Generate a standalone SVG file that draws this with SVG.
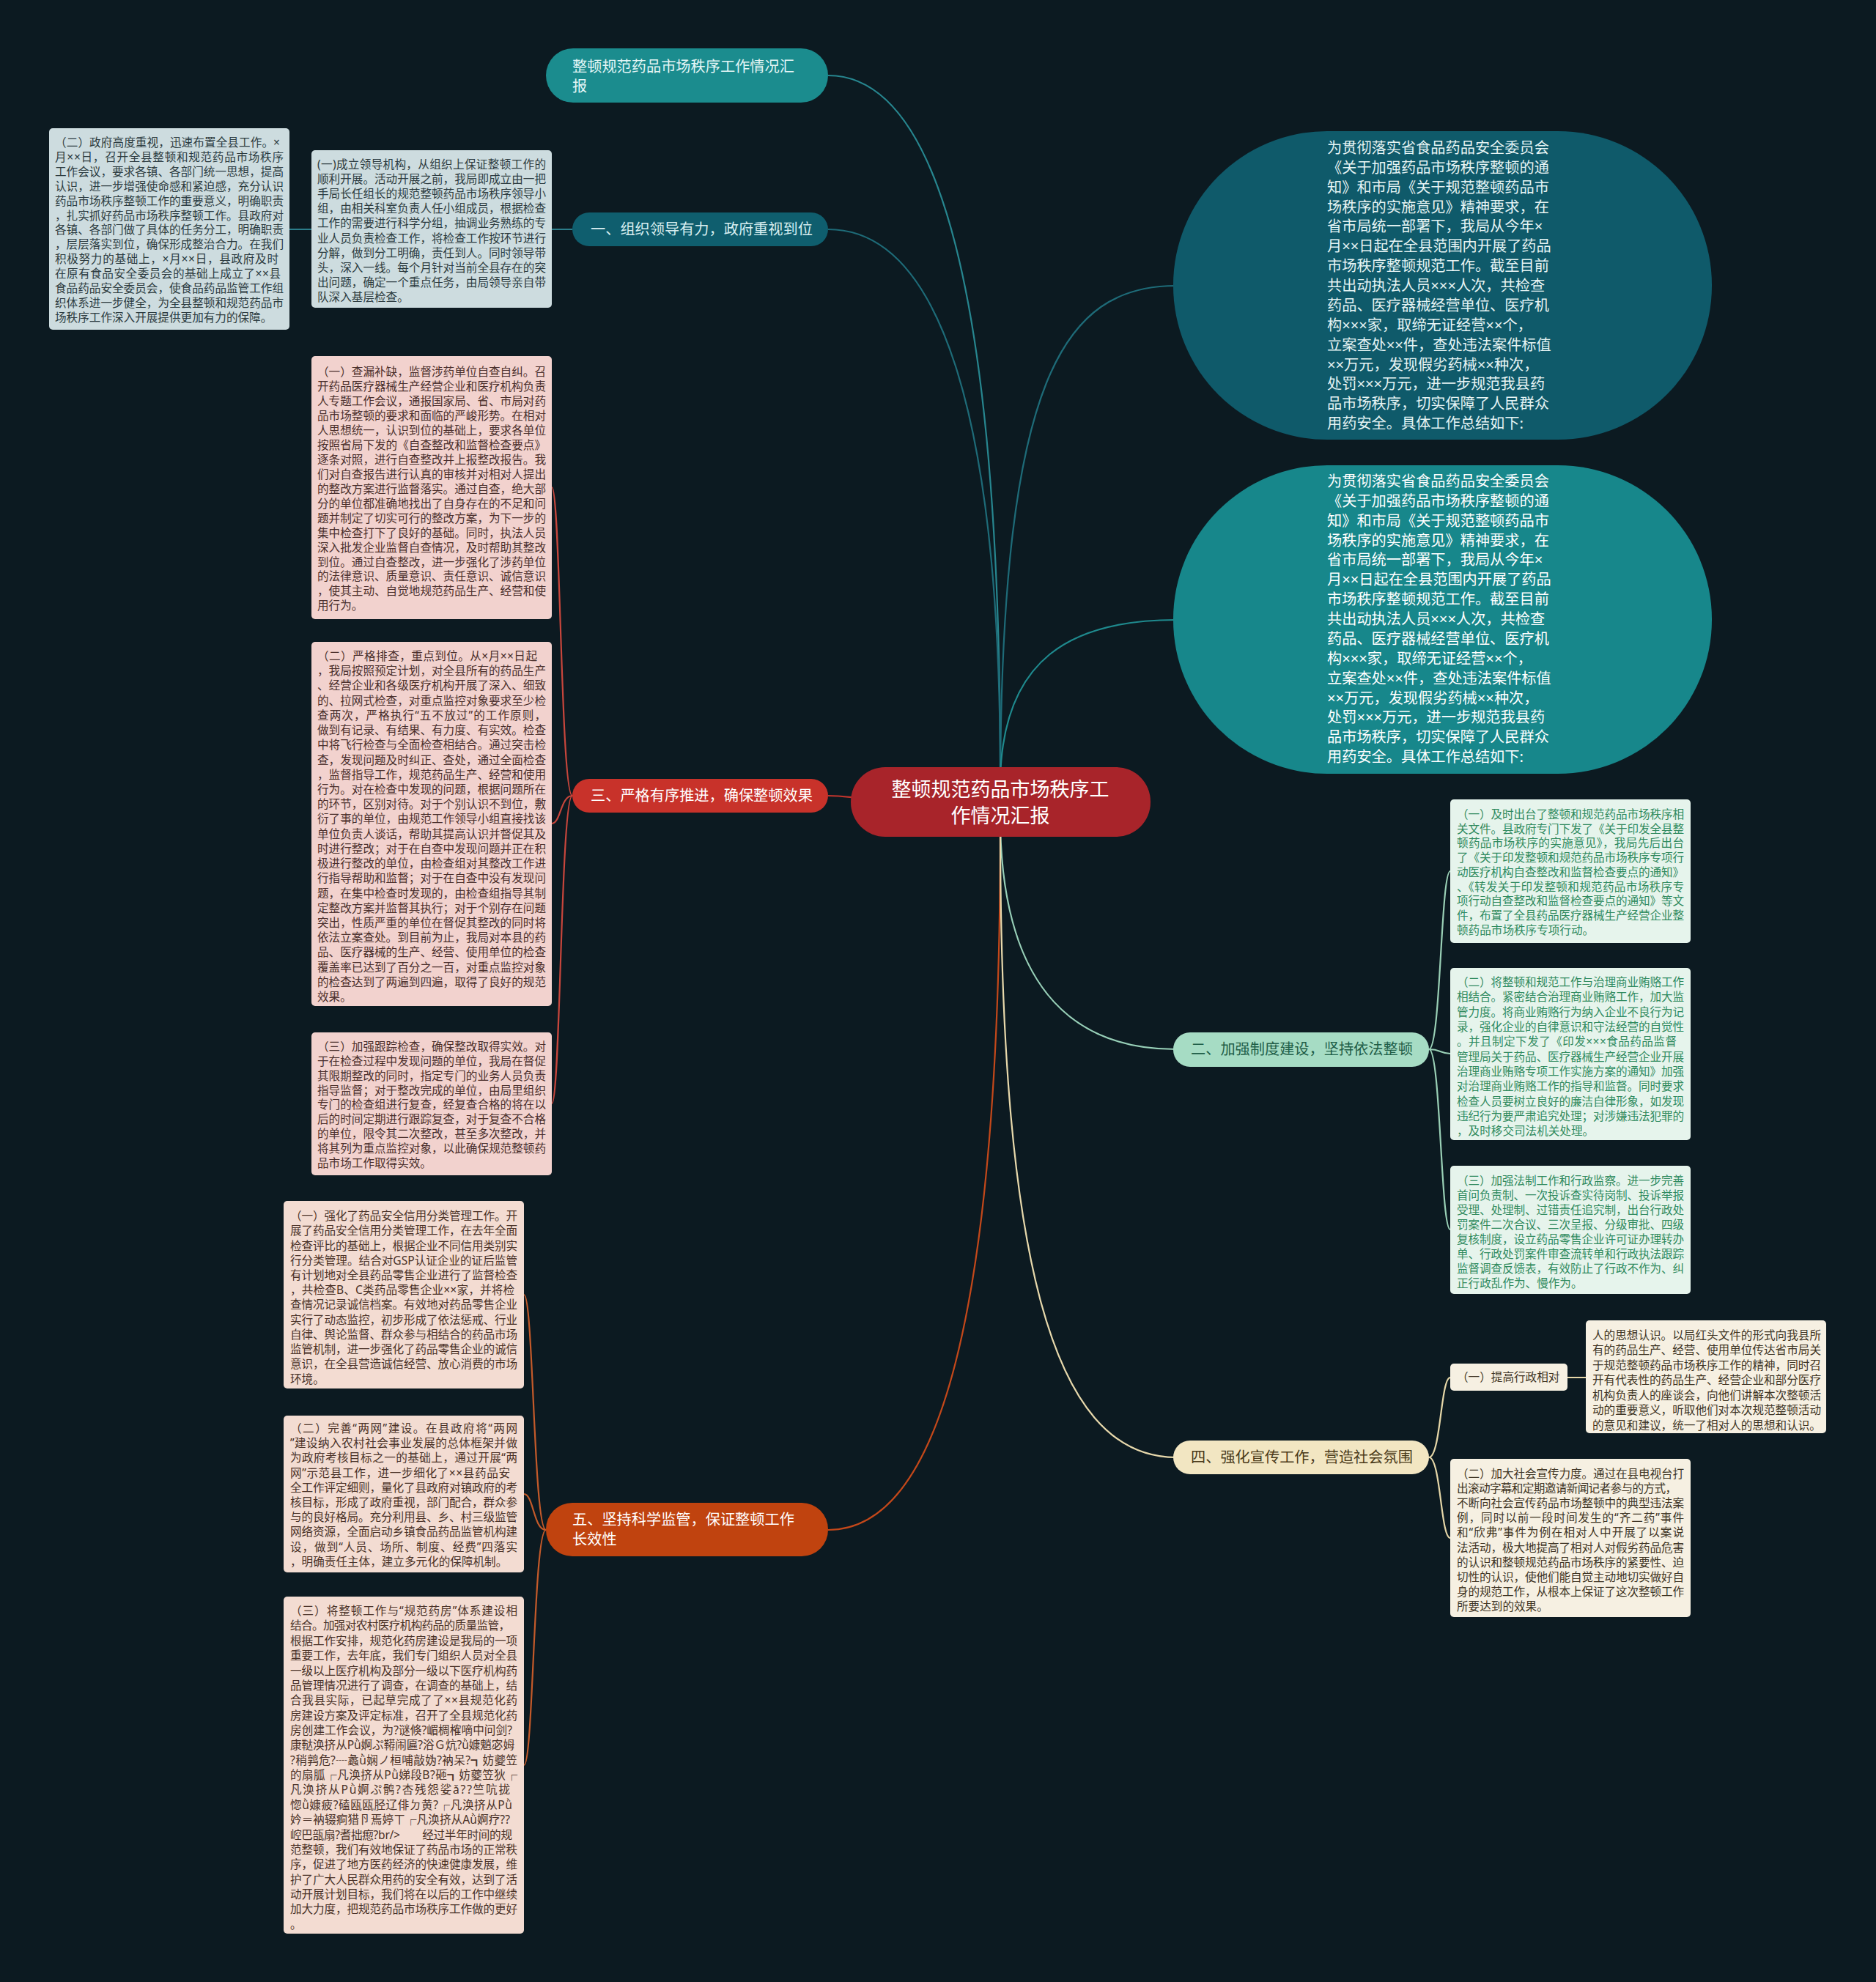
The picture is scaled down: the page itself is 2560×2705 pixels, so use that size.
<svg xmlns="http://www.w3.org/2000/svg" width="2560" height="2705" viewBox="0 0 2560 2705">
<defs>
<style>
text{font-family:"Noto Sans","Noto Sans CJK SC",sans-serif;}
.s{font-size:15.6px;}
.p{font-size:20.2px;}
.c{fill:none;stroke-width:2.2;}
.tb{fill:#2c3b40;}
.tp{fill:#4a2f2c;}
.to{fill:#4a3228;}
.tg{fill:#2f8a5e;}
.ty{fill:#3e3424;}
</style>
</defs>
<rect x="0" y="0" width="2560" height="2705" fill="#0c1a21"/>

<g id="connectors">
<path class="c" stroke="#27868f" d="M1365,1060 C1365,400 1280,103 1130,103"/>
<path class="c" stroke="#1e6b78" d="M1365,1060 C1365,560 1280,313 1130,313"/>
<path class="c" stroke="#c0352d" d="M1200,1090 C1160,1090 1160,1086 1130,1086"/>
<path class="c" stroke="#c4481a" d="M1365,1130 C1365,1800 1280,2088 1130,2088"/>
<path class="c" stroke="#1e6b78" d="M1365,1060 C1368,520 1450,390 1605,390"/>
<path class="c" stroke="#1f8a8e" d="M1365,1060 C1370,900 1460,846 1605,846"/>
<path class="c" stroke="#98d0b8" d="M1365,1130 C1370,1330 1450,1432 1605,1432"/>
<path class="c" stroke="#e8d9ac" d="M1365,1130 C1365,1700 1430,1989 1605,1989"/>
<path class="c" stroke="#2c7d8a" d="M395,313 L781,313"/>
<path class="c" stroke="#c8463c" d="M781,1086 C765,1086 765,665 753,665 M781,1086 C765,1086 765,1124 753,1124 M781,1086 C765,1086 765,1506 753,1506"/>
<path class="c" stroke="#c45a2a" d="M745,2088 C728,2088 728,1767 715,1767 M745,2088 C728,2088 728,2039 715,2039 M745,2088 C728,2088 728,2409 715,2409"/>
<path class="c" stroke="#9ad0b6" d="M1950,1432 C1966,1432 1966,1189 1979,1189 M1950,1432 C1966,1432 1966,1438 1979,1438 M1950,1432 C1966,1432 1966,1678 1979,1678"/>
<path class="c" stroke="#e6d7a8" d="M1950,1989 C1966,1989 1966,1880 1979,1880 M1950,1989 C1966,1989 1966,2099 1979,2099 M2139,1880 L2164,1880"/>
</g>

<g id="n-center">
<rect x="1161" y="1047" width="409" height="95" rx="47" fill="#a8242a"/>
<text x="1365" y="1087" text-anchor="middle" font-size="27" fill="#ffffff">整顿规范药品市场秩序工</text>
<text x="1365" y="1123" text-anchor="middle" font-size="27" fill="#ffffff">作情况汇报</text>
</g>

<g id="n-top">
<rect x="745" y="66" width="385" height="74" rx="37" fill="#1b8c8e"/>
<text class="p" x="781" y="98" fill="#e4f6f6">整顿规范药品市场秩序工作情况汇</text>
<text class="p" x="781" y="125" fill="#e4f6f6">报</text>
</g>

<g id="n-b1">
<rect x="781" y="290" width="349" height="46" rx="23" fill="#0f5e6e"/>
<text class="p" x="806" y="320" fill="#d8eef0">一、组织领导有力，政府重视到位</text>
</g>

<g id="n-b1-1">
<rect x="425" y="205" width="328" height="215" rx="5" fill="#cddcdf"/>
<text class="s tb" x="433" y="230" textLength="312" lengthAdjust="spacing">(一)成立领导机构，从组织上保证整顿工作的</text>
<text class="s tb" x="433" y="250.1" textLength="312" lengthAdjust="spacing">顺利开展。活动开展之前，我局即成立由一把</text>
<text class="s tb" x="433" y="270.2" textLength="312" lengthAdjust="spacing">手局长任组长的规范整顿药品市场秩序领导小</text>
<text class="s tb" x="433" y="290.3" textLength="312" lengthAdjust="spacing">组，由相关科室负责人任小组成员，根据检查</text>
<text class="s tb" x="433" y="310.4" textLength="312" lengthAdjust="spacing">工作的需要进行科学分组，抽调业务熟练的专</text>
<text class="s tb" x="433" y="330.5" textLength="312" lengthAdjust="spacing">业人员负责检查工作，将检查工作按环节进行</text>
<text class="s tb" x="433" y="350.6" textLength="312" lengthAdjust="spacing">分解，做到分工明确，责任到人。同时领导带</text>
<text class="s tb" x="433" y="370.7" textLength="312" lengthAdjust="spacing">头，深入一线。每个月针对当前全县存在的突</text>
<text class="s tb" x="433" y="390.8" textLength="312" lengthAdjust="spacing">出问题，确定一个重点任务，由局领导亲自带</text>
<text class="s tb" x="433" y="410.9">队深入基层检查。</text>
</g>

<g id="n-b1-2">
<rect x="67" y="175" width="328" height="275" rx="5" fill="#cddcdf"/>
<text class="s tb" x="75" y="200" textLength="307" lengthAdjust="spacing">（二）政府高度重视，迅速布置全县工作。×</text>
<text class="s tb" x="75" y="219.9" textLength="312" lengthAdjust="spacing">月××日，召开全县整顿和规范药品市场秩序</text>
<text class="s tb" x="75" y="239.8" textLength="312" lengthAdjust="spacing">工作会议，要求各镇、各部门统一思想，提高</text>
<text class="s tb" x="75" y="259.7" textLength="312" lengthAdjust="spacing">认识，进一步增强使命感和紧迫感，充分认识</text>
<text class="s tb" x="75" y="279.6" textLength="312" lengthAdjust="spacing">药品市场秩序整顿工作的重要意义，明确职责</text>
<text class="s tb" x="75" y="299.5" textLength="312" lengthAdjust="spacing">，扎实抓好药品市场秩序整顿工作。县政府对</text>
<text class="s tb" x="75" y="319.4" textLength="312" lengthAdjust="spacing">各镇、各部门做了具体的任务分工，明确职责</text>
<text class="s tb" x="75" y="339.3" textLength="312" lengthAdjust="spacing">，层层落实到位，确保形成整治合力。在我们</text>
<text class="s tb" x="75" y="359.2" textLength="305" lengthAdjust="spacing">积极努力的基础上，×月××日，县政府及时</text>
<text class="s tb" x="75" y="379.1" textLength="308" lengthAdjust="spacing">在原有食品安全委员会的基础上成立了××县</text>
<text class="s tb" x="75" y="399" textLength="312" lengthAdjust="spacing">食品药品安全委员会，使食品药品监管工作组</text>
<text class="s tb" x="75" y="418.9" textLength="312" lengthAdjust="spacing">织体系进一步健全，为全县整顿和规范药品市</text>
<text class="s tb" x="75" y="438.8">场秩序工作深入开展提供更加有力的保障。</text>
</g>

<g id="n-b3">
<rect x="781" y="1063" width="349" height="46" rx="23" fill="#c8322a"/>
<text class="p" x="806" y="1093" fill="#ffffff">三、严格有序推进，确保整顿效果</text>
</g>

<g id="n-b3-1">
<rect x="425" y="486" width="328" height="359" rx="5" fill="#f2d2ce"/>
<text class="s tp" x="433" y="513" textLength="312" lengthAdjust="spacing">（一）查漏补缺，监督涉药单位自查自纠。召</text>
<text class="s tp" x="433" y="533" textLength="312" lengthAdjust="spacing">开药品医疗器械生产经营企业和医疗机构负责</text>
<text class="s tp" x="433" y="552.9" textLength="312" lengthAdjust="spacing">人专题工作会议，通报国家局、省、市局对药</text>
<text class="s tp" x="433" y="572.9" textLength="312" lengthAdjust="spacing">品市场整顿的要求和面临的严峻形势。在相对</text>
<text class="s tp" x="433" y="592.8" textLength="312" lengthAdjust="spacing">人思想统一，认识到位的基础上，要求各单位</text>
<text class="s tp" x="433" y="612.8" textLength="312" lengthAdjust="spacing">按照省局下发的《自查整改和监督检查要点》</text>
<text class="s tp" x="433" y="632.8" textLength="312" lengthAdjust="spacing">逐条对照，进行自查整改并上报整改报告。我</text>
<text class="s tp" x="433" y="652.7" textLength="312" lengthAdjust="spacing">们对自查报告进行认真的审核并对相对人提出</text>
<text class="s tp" x="433" y="672.7" textLength="312" lengthAdjust="spacing">的整改方案进行监督落实。通过自查，绝大部</text>
<text class="s tp" x="433" y="692.6" textLength="312" lengthAdjust="spacing">分的单位都准确地找出了自身存在的不足和问</text>
<text class="s tp" x="433" y="712.6" textLength="312" lengthAdjust="spacing">题并制定了切实可行的整改方案，为下一步的</text>
<text class="s tp" x="433" y="732.6" textLength="312" lengthAdjust="spacing">集中检查打下了良好的基础。同时，执法人员</text>
<text class="s tp" x="433" y="752.5" textLength="312" lengthAdjust="spacing">深入批发企业监督自查情况，及时帮助其整改</text>
<text class="s tp" x="433" y="772.5" textLength="312" lengthAdjust="spacing">到位。通过自查整改，进一步强化了涉药单位</text>
<text class="s tp" x="433" y="792.4" textLength="312" lengthAdjust="spacing">的法律意识、质量意识、责任意识、诚信意识</text>
<text class="s tp" x="433" y="812.4" textLength="312" lengthAdjust="spacing">，使其主动、自觉地规范药品生产、经营和使</text>
<text class="s tp" x="433" y="832.4">用行为。</text>
</g>

<g id="n-b3-2">
<rect x="425" y="876" width="328" height="497" rx="5" fill="#f2d2ce"/>
<text class="s tp" x="433" y="901" textLength="300" lengthAdjust="spacing">（二）严格排查，重点到位。从×月××日起</text>
<text class="s tp" x="433" y="921.2" textLength="312" lengthAdjust="spacing">，我局按照预定计划，对全县所有的药品生产</text>
<text class="s tp" x="433" y="941.4" textLength="312" lengthAdjust="spacing">、经营企业和各级医疗机构开展了深入、细致</text>
<text class="s tp" x="433" y="961.7" textLength="312" lengthAdjust="spacing">的、拉网式检查，对重点监控对象要求至少检</text>
<text class="s tp" x="433" y="981.9" textLength="312" lengthAdjust="spacing">查两次，严格执行“五不放过”的工作原则，</text>
<text class="s tp" x="433" y="1002.1" textLength="312" lengthAdjust="spacing">做到有记录、有结果、有力度、有实效。检查</text>
<text class="s tp" x="433" y="1022.3" textLength="312" lengthAdjust="spacing">中将飞行检查与全面检查相结合。通过突击检</text>
<text class="s tp" x="433" y="1042.5" textLength="312" lengthAdjust="spacing">查，发现问题及时纠正、查处，通过全面检查</text>
<text class="s tp" x="433" y="1062.8" textLength="312" lengthAdjust="spacing">，监督指导工作，规范药品生产、经营和使用</text>
<text class="s tp" x="433" y="1083" textLength="312" lengthAdjust="spacing">行为。对在检查中发现的问题，根据问题所在</text>
<text class="s tp" x="433" y="1103.2" textLength="312" lengthAdjust="spacing">的环节，区别对待。对于个别认识不到位，敷</text>
<text class="s tp" x="433" y="1123.4" textLength="312" lengthAdjust="spacing">衍了事的单位，由规范工作领导小组直接找该</text>
<text class="s tp" x="433" y="1143.6" textLength="312" lengthAdjust="spacing">单位负责人谈话，帮助其提高认识并督促其及</text>
<text class="s tp" x="433" y="1163.9" textLength="312" lengthAdjust="spacing">时进行整改；对于在自查中发现问题并正在积</text>
<text class="s tp" x="433" y="1184.1" textLength="312" lengthAdjust="spacing">极进行整改的单位，由检查组对其整改工作进</text>
<text class="s tp" x="433" y="1204.3" textLength="312" lengthAdjust="spacing">行指导帮助和监督；对于在自查中没有发现问</text>
<text class="s tp" x="433" y="1224.5" textLength="312" lengthAdjust="spacing">题，在集中检查时发现的，由检查组指导其制</text>
<text class="s tp" x="433" y="1244.7" textLength="312" lengthAdjust="spacing">定整改方案并监督其执行；对于个别存在问题</text>
<text class="s tp" x="433" y="1265" textLength="312" lengthAdjust="spacing">突出，性质严重的单位在督促其整改的同时将</text>
<text class="s tp" x="433" y="1285.2" textLength="312" lengthAdjust="spacing">依法立案查处。到目前为止，我局对本县的药</text>
<text class="s tp" x="433" y="1305.4" textLength="312" lengthAdjust="spacing">品、医疗器械的生产、经营、使用单位的检查</text>
<text class="s tp" x="433" y="1325.6" textLength="312" lengthAdjust="spacing">覆盖率已达到了百分之一百，对重点监控对象</text>
<text class="s tp" x="433" y="1345.8" textLength="312" lengthAdjust="spacing">的检查达到了两遍到四遍，取得了良好的规范</text>
<text class="s tp" x="433" y="1366.1">效果。</text>
</g>

<g id="n-b3-3">
<rect x="425" y="1409" width="328" height="195" rx="5" fill="#f2d2ce"/>
<text class="s tp" x="433" y="1434" textLength="312" lengthAdjust="spacing">（三）加强跟踪检查，确保整改取得实效。对</text>
<text class="s tp" x="433" y="1453.8" textLength="312" lengthAdjust="spacing">于在检查过程中发现问题的单位，我局在督促</text>
<text class="s tp" x="433" y="1473.7" textLength="312" lengthAdjust="spacing">其限期整改的同时，指定专门的业务人员负责</text>
<text class="s tp" x="433" y="1493.5" textLength="312" lengthAdjust="spacing">指导监督；对于整改完成的单位，由局里组织</text>
<text class="s tp" x="433" y="1513.4" textLength="312" lengthAdjust="spacing">专门的检查组进行复查，经复查合格的将在以</text>
<text class="s tp" x="433" y="1533.2" textLength="312" lengthAdjust="spacing">后的时间定期进行跟踪复查，对于复查不合格</text>
<text class="s tp" x="433" y="1553" textLength="312" lengthAdjust="spacing">的单位，限令其二次整改，甚至多次整改，并</text>
<text class="s tp" x="433" y="1572.9" textLength="312" lengthAdjust="spacing">将其列为重点监控对象，以此确保规范整顿药</text>
<text class="s tp" x="433" y="1592.7">品市场工作取得实效。</text>
</g>

<g id="n-b5">
<rect x="745" y="2051" width="385" height="73" rx="36" fill="#c0430f"/>
<text class="p" x="781" y="2081" fill="#ffffff">五、坚持科学监管，保证整顿工作</text>
<text class="p" x="781" y="2108" fill="#ffffff">长效性</text>
</g>

<g id="n-b5-1">
<rect x="387" y="1639" width="328" height="256" rx="5" fill="#f3dcd2"/>
<text class="s to" x="396" y="1665" textLength="310" lengthAdjust="spacing">（一）强化了药品安全信用分类管理工作。开</text>
<text class="s to" x="396" y="1685.2" textLength="310" lengthAdjust="spacing">展了药品安全信用分类管理工作，在去年全面</text>
<text class="s to" x="396" y="1705.5" textLength="310" lengthAdjust="spacing">检查评比的基础上，根据企业不同信用类别实</text>
<text class="s to" x="396" y="1725.7" textLength="310" lengthAdjust="spacing">行分类管理。结合对GSP认证企业的证后监管</text>
<text class="s to" x="396" y="1746" textLength="310" lengthAdjust="spacing">有计划地对全县药品零售企业进行了监督检查</text>
<text class="s to" x="396" y="1766.2" textLength="306" lengthAdjust="spacing">，共检查B、C类药品零售企业××家，并将检</text>
<text class="s to" x="396" y="1786.4" textLength="310" lengthAdjust="spacing">查情况记录诚信档案。有效地对药品零售企业</text>
<text class="s to" x="396" y="1806.7" textLength="310" lengthAdjust="spacing">实行了动态监控，初步形成了依法惩戒、行业</text>
<text class="s to" x="396" y="1826.9" textLength="310" lengthAdjust="spacing">自律、舆论监督、群众参与相结合的药品市场</text>
<text class="s to" x="396" y="1847.2" textLength="310" lengthAdjust="spacing">监管机制，进一步强化了药品零售企业的诚信</text>
<text class="s to" x="396" y="1867.4" textLength="310" lengthAdjust="spacing">意识，在全县营造诚信经营、放心消费的市场</text>
<text class="s to" x="396" y="1887.6">环境。</text>
</g>

<g id="n-b5-2">
<rect x="387" y="1932" width="328" height="214" rx="5" fill="#f3dcd2"/>
<text class="s to" x="396" y="1955" textLength="310" lengthAdjust="spacing">（二）完善“两网”建设。在县政府将“两网</text>
<text class="s to" x="396" y="1975.2" textLength="310" lengthAdjust="spacing">”建设纳入农村社会事业发展的总体框架并做</text>
<text class="s to" x="396" y="1995.4" textLength="310" lengthAdjust="spacing">为政府考核目标之一的基础上，通过开展“两</text>
<text class="s to" x="396" y="2015.6" textLength="300" lengthAdjust="spacing">网”示范县工作，进一步细化了××县药品安</text>
<text class="s to" x="396" y="2035.8" textLength="310" lengthAdjust="spacing">全工作评定细则，量化了县政府对镇政府的考</text>
<text class="s to" x="396" y="2056" textLength="310" lengthAdjust="spacing">核目标，形成了政府重视，部门配合，群众参</text>
<text class="s to" x="396" y="2076.1" textLength="310" lengthAdjust="spacing">与的良好格局。充分利用县、乡、村三级监管</text>
<text class="s to" x="396" y="2096.3" textLength="310" lengthAdjust="spacing">网络资源，全面启动乡镇食品药品监管机构建</text>
<text class="s to" x="396" y="2116.5" textLength="310" lengthAdjust="spacing">设，做到“人员、场所、制度、经费”四落实</text>
<text class="s to" x="396" y="2136.7">，明确责任主体，建立多元化的保障机制。</text>
</g>

<g id="n-b5-3">
<rect x="387" y="2179" width="328" height="460" rx="5" fill="#f3dcd2"/>
<text class="s to" x="396" y="2204" textLength="310" lengthAdjust="spacing">（三）将整顿工作与“规范药房”体系建设相</text>
<text class="s to" x="396" y="2224.4" textLength="300" lengthAdjust="spacing">结合。加强对农村医疗机构药品的质量监管，</text>
<text class="s to" x="396" y="2244.7" textLength="310" lengthAdjust="spacing">根据工作安排，规范化药房建设是我局的一项</text>
<text class="s to" x="396" y="2265.1" textLength="310" lengthAdjust="spacing">重要工作，去年底，我们专门组织人员对全县</text>
<text class="s to" x="396" y="2285.5" textLength="310" lengthAdjust="spacing">一级以上医疗机构及部分一级以下医疗机构药</text>
<text class="s to" x="396" y="2305.9" textLength="310" lengthAdjust="spacing">品管理情况进行了调查，在调查的基础上，结</text>
<text class="s to" x="396" y="2326.2" textLength="310" lengthAdjust="spacing">合我县实际，已起草完成了了××县规范化药</text>
<text class="s to" x="396" y="2346.6" textLength="310" lengthAdjust="spacing">房建设方案及评定标准，召开了全县规范化药</text>
<text class="s to" x="396" y="2367" textLength="303" lengthAdjust="spacing">房创建工作会议，为?谜倏?嵋椆榷嘀中问剑?</text>
<text class="s to" x="396" y="2387.3" textLength="306" lengthAdjust="spacing">康鞑涣挤从Pǜ婀ぷ鞯闹匾?浴Ｇ炕?ǜ嫝魈宓姆</text>
<text class="s to" x="396" y="2407.7" textLength="310" lengthAdjust="spacing">?稍鹑危?┈蠡ǜ娴ノ桓哺敲妫?衲呆?┓妨夔笠</text>
<text class="s to" x="396" y="2428.1" textLength="310" lengthAdjust="spacing">的扇胍┌凡涣挤从Pǜ娣段B?砸┓妨夔笠狄┌</text>
<text class="s to" x="396" y="2448.4" textLength="300" lengthAdjust="spacing">凡涣挤从Pǜ婀ぷ鹘?杏残怨娑ǎ??竺吭拢</text>
<text class="s to" x="396" y="2468.8" textLength="303" lengthAdjust="spacing">惚ǜ嫝疲?磕瓯瓯胫辽俳ㄉ黄?┌凡涣挤从Pǜ</text>
<text class="s to" x="396" y="2489.2" textLength="300" lengthAdjust="spacing">妗＝衲辍痾猎卪焉婷ㄒ┌凡涣挤从Aǜ婀疗??</text>
<text class="s to" x="396" y="2509.6" textLength="303" lengthAdjust="spacing">崆巴瓿扇?耆拙瘛?br/&gt;　　经过半年时间的规</text>
<text class="s to" x="396" y="2529.9" textLength="310" lengthAdjust="spacing">范整顿，我们有效地保证了药品市场的正常秩</text>
<text class="s to" x="396" y="2550.3" textLength="310" lengthAdjust="spacing">序，促进了地方医药经济的快速健康发展，维</text>
<text class="s to" x="396" y="2570.7" textLength="310" lengthAdjust="spacing">护了广大人民群众用药的安全有效，达到了活</text>
<text class="s to" x="396" y="2591" textLength="310" lengthAdjust="spacing">动开展计划目标，我们将在以后的工作中继续</text>
<text class="s to" x="396" y="2611.4" textLength="310" lengthAdjust="spacing">加大力度，把规范药品市场秩序工作做的更好</text>
<text class="s to" x="396" y="2631.8">。</text>
</g>

<g id="n-e1">
<rect x="1601" y="179" width="735" height="421" rx="210" ry="210" fill="#0f5a6a"/>
<text class="p" x="1811" y="209" fill="#e6f4f4">为贯彻落实省食品药品安全委员会</text>
<text class="p" x="1811" y="235.9" fill="#e6f4f4">《关于加强药品市场秩序整顿的通</text>
<text class="p" x="1811" y="262.7" fill="#e6f4f4">知》和市局《关于规范整顿药品市</text>
<text class="p" x="1811" y="289.6" fill="#e6f4f4">场秩序的实施意见》精神要求，在</text>
<text class="p" x="1811" y="316.4" fill="#e6f4f4">省市局统一部署下，我局从今年×</text>
<text class="p" x="1811" y="343.3" fill="#e6f4f4">月××日起在全县范围内开展了药品</text>
<text class="p" x="1811" y="370.2" fill="#e6f4f4">市场秩序整顿规范工作。截至目前</text>
<text class="p" x="1811" y="397" fill="#e6f4f4">共出动执法人员×××人次，共检查</text>
<text class="p" x="1811" y="423.9" fill="#e6f4f4">药品、医疗器械经营单位、医疗机</text>
<text class="p" x="1811" y="450.7" fill="#e6f4f4">构×××家，取缔无证经营××个，</text>
<text class="p" x="1811" y="477.6" fill="#e6f4f4">立案查处××件，查处违法案件标值</text>
<text class="p" x="1811" y="504.5" fill="#e6f4f4">××万元，发现假劣药械××种次，</text>
<text class="p" x="1811" y="531.3" fill="#e6f4f4">处罚×××万元，进一步规范我县药</text>
<text class="p" x="1811" y="558.2" fill="#e6f4f4">品市场秩序，切实保障了人民群众</text>
<text class="p" x="1811" y="585" fill="#e6f4f4">用药安全。具体工作总结如下:</text>
</g>

<g id="n-e2">
<rect x="1601" y="635" width="735" height="421" rx="210" ry="210" fill="#17878b"/>
<text class="p" x="1811" y="664" fill="#ffffff">为贯彻落实省食品药品安全委员会</text>
<text class="p" x="1811" y="690.9" fill="#ffffff">《关于加强药品市场秩序整顿的通</text>
<text class="p" x="1811" y="717.7" fill="#ffffff">知》和市局《关于规范整顿药品市</text>
<text class="p" x="1811" y="744.6" fill="#ffffff">场秩序的实施意见》精神要求，在</text>
<text class="p" x="1811" y="771.4" fill="#ffffff">省市局统一部署下，我局从今年×</text>
<text class="p" x="1811" y="798.3" fill="#ffffff">月××日起在全县范围内开展了药品</text>
<text class="p" x="1811" y="825.2" fill="#ffffff">市场秩序整顿规范工作。截至目前</text>
<text class="p" x="1811" y="852" fill="#ffffff">共出动执法人员×××人次，共检查</text>
<text class="p" x="1811" y="878.9" fill="#ffffff">药品、医疗器械经营单位、医疗机</text>
<text class="p" x="1811" y="905.7" fill="#ffffff">构×××家，取缔无证经营××个，</text>
<text class="p" x="1811" y="932.6" fill="#ffffff">立案查处××件，查处违法案件标值</text>
<text class="p" x="1811" y="959.5" fill="#ffffff">××万元，发现假劣药械××种次，</text>
<text class="p" x="1811" y="986.3" fill="#ffffff">处罚×××万元，进一步规范我县药</text>
<text class="p" x="1811" y="1013.2" fill="#ffffff">品市场秩序，切实保障了人民群众</text>
<text class="p" x="1811" y="1040" fill="#ffffff">用药安全。具体工作总结如下:</text>
</g>

<g id="n-b2">
<rect x="1601" y="1409" width="349" height="47" rx="23" fill="#a6dcc4"/>
<text class="p" x="1625" y="1439" fill="#1f5e48">二、加强制度建设，坚持依法整顿</text>
</g>

<g id="n-b2-1">
<rect x="1979" y="1091" width="328" height="196" rx="5" fill="#e6f4ec"/>
<text class="s tg" x="1988" y="1117" textLength="310" lengthAdjust="spacing">（一）及时出台了整顿和规范药品市场秩序相</text>
<text class="s tg" x="1988" y="1136.7" textLength="310" lengthAdjust="spacing">关文件。县政府专门下发了《关于印发全县整</text>
<text class="s tg" x="1988" y="1156.4" textLength="310" lengthAdjust="spacing">顿药品市场秩序的实施意见》，我局先后出台</text>
<text class="s tg" x="1988" y="1176.1" textLength="310" lengthAdjust="spacing">了《关于印发整顿和规范药品市场秩序专项行</text>
<text class="s tg" x="1988" y="1195.8" textLength="310" lengthAdjust="spacing">动医疗机构自查整改和监督检查要点的通知》</text>
<text class="s tg" x="1988" y="1215.6" textLength="310" lengthAdjust="spacing">、《转发关于印发整顿和规范药品市场秩序专</text>
<text class="s tg" x="1988" y="1235.3" textLength="310" lengthAdjust="spacing">项行动自查整改和监督检查要点的通知》等文</text>
<text class="s tg" x="1988" y="1255" textLength="310" lengthAdjust="spacing">件，布置了全县药品医疗器械生产经营企业整</text>
<text class="s tg" x="1988" y="1274.7">顿药品市场秩序专项行动。</text>
</g>

<g id="n-b2-2">
<rect x="1979" y="1321" width="328" height="235" rx="5" fill="#e6f4ec"/>
<text class="s tg" x="1988" y="1346" textLength="310" lengthAdjust="spacing">（二）将整顿和规范工作与治理商业贿赂工作</text>
<text class="s tg" x="1988" y="1366.3" textLength="310" lengthAdjust="spacing">相结合。紧密结合治理商业贿赂工作，加大监</text>
<text class="s tg" x="1988" y="1386.7" textLength="310" lengthAdjust="spacing">管力度。将商业贿赂行为纳入企业不良行为记</text>
<text class="s tg" x="1988" y="1407" textLength="310" lengthAdjust="spacing">录，强化企业的自律意识和守法经营的自觉性</text>
<text class="s tg" x="1988" y="1427.3" textLength="300" lengthAdjust="spacing">。并且制定下发了《印发×××食品药品监督</text>
<text class="s tg" x="1988" y="1447.7" textLength="310" lengthAdjust="spacing">管理局关于药品、医疗器械生产经营企业开展</text>
<text class="s tg" x="1988" y="1468" textLength="310" lengthAdjust="spacing">治理商业贿赂专项工作实施方案的通知》加强</text>
<text class="s tg" x="1988" y="1488.3" textLength="310" lengthAdjust="spacing">对治理商业贿赂工作的指导和监督。同时要求</text>
<text class="s tg" x="1988" y="1508.6" textLength="310" lengthAdjust="spacing">检查人员要树立良好的廉洁自律形象，如发现</text>
<text class="s tg" x="1988" y="1529" textLength="310" lengthAdjust="spacing">违纪行为要严肃追究处理；对涉嫌违法犯罪的</text>
<text class="s tg" x="1988" y="1549.3">，及时移交司法机关处理。</text>
</g>

<g id="n-b2-3">
<rect x="1979" y="1591" width="328" height="175" rx="5" fill="#e6f4ec"/>
<text class="s tg" x="1988" y="1617.3" textLength="310" lengthAdjust="spacing">（三）加强法制工作和行政监察。进一步完善</text>
<text class="s tg" x="1988" y="1637.3" textLength="310" lengthAdjust="spacing">首问负责制、一次投诉查实待岗制、投诉举报</text>
<text class="s tg" x="1988" y="1657.3" textLength="310" lengthAdjust="spacing">受理、处理制、过错责任追究制，出台行政处</text>
<text class="s tg" x="1988" y="1677.3" textLength="310" lengthAdjust="spacing">罚案件二次合议、三次呈报、分级审批、四级</text>
<text class="s tg" x="1988" y="1697.3" textLength="310" lengthAdjust="spacing">复核制度，设立药品零售企业许可证办理转办</text>
<text class="s tg" x="1988" y="1717.3" textLength="310" lengthAdjust="spacing">单、行政处罚案件审查流转单和行政执法跟踪</text>
<text class="s tg" x="1988" y="1737.3" textLength="310" lengthAdjust="spacing">监督调查反馈表，有效防止了行政不作为、纠</text>
<text class="s tg" x="1988" y="1757.3">正行政乱作为、慢作为。</text>
</g>

<g id="n-b4">
<rect x="1601" y="1966" width="349" height="46" rx="23" fill="#f2e6c2"/>
<text class="p" x="1625" y="1996" fill="#4a3a1a">四、强化宣传工作，营造社会氛围</text>
</g>

<g id="n-b4-1">
<rect x="1979" y="1861" width="160" height="37" rx="5" fill="#f6f0e2"/>
<text class="s ty" x="1988" y="1885">（一）提高行政相对</text>
</g>

<g id="n-b4-1-1">
<rect x="2164" y="1802" width="328" height="154" rx="5" fill="#f6f0e2"/>
<text class="s ty" x="2173" y="1828" textLength="312" lengthAdjust="spacing">人的思想认识。以局红头文件的形式向我县所</text>
<text class="s ty" x="2173" y="1848.4" textLength="312" lengthAdjust="spacing">有的药品生产、经营、使用单位传达省市局关</text>
<text class="s ty" x="2173" y="1868.9" textLength="312" lengthAdjust="spacing">于规范整顿药品市场秩序工作的精神，同时召</text>
<text class="s ty" x="2173" y="1889.3" textLength="312" lengthAdjust="spacing">开有代表性的药品生产、经营企业和部分医疗</text>
<text class="s ty" x="2173" y="1909.8" textLength="312" lengthAdjust="spacing">机构负责人的座谈会，向他们讲解本次整顿活</text>
<text class="s ty" x="2173" y="1930.2" textLength="312" lengthAdjust="spacing">动的重要意义，听取他们对本次规范整顿活动</text>
<text class="s ty" x="2173" y="1950.6">的意见和建议，统一了相对人的思想和认识。</text>
</g>

<g id="n-b4-2">
<rect x="1979" y="1991" width="328" height="216" rx="5" fill="#f6f0e2"/>
<text class="s ty" x="1988" y="2017" textLength="310" lengthAdjust="spacing">（二）加大社会宣传力度。通过在县电视台打</text>
<text class="s ty" x="1988" y="2037.1" textLength="300" lengthAdjust="spacing">出滚动字幕和定期邀请新闻记者参与的方式，</text>
<text class="s ty" x="1988" y="2057.2" textLength="310" lengthAdjust="spacing">不断向社会宣传药品市场整顿中的典型违法案</text>
<text class="s ty" x="1988" y="2077.3" textLength="310" lengthAdjust="spacing">例，同时以前一段时间发生的“齐二药”事件</text>
<text class="s ty" x="1988" y="2097.4" textLength="310" lengthAdjust="spacing">和“欣弗”事件为例在相对人中开展了以案说</text>
<text class="s ty" x="1988" y="2117.5" textLength="310" lengthAdjust="spacing">法活动，极大地提高了相对人对假劣药品危害</text>
<text class="s ty" x="1988" y="2137.6" textLength="310" lengthAdjust="spacing">的认识和整顿规范药品市场秩序的紧要性、迫</text>
<text class="s ty" x="1988" y="2157.7" textLength="310" lengthAdjust="spacing">切性的认识，使他们能自觉主动地切实做好自</text>
<text class="s ty" x="1988" y="2177.8" textLength="310" lengthAdjust="spacing">身的规范工作，从根本上保证了这次整顿工作</text>
<text class="s ty" x="1988" y="2197.9">所要达到的效果。</text>
</g>
</svg>
